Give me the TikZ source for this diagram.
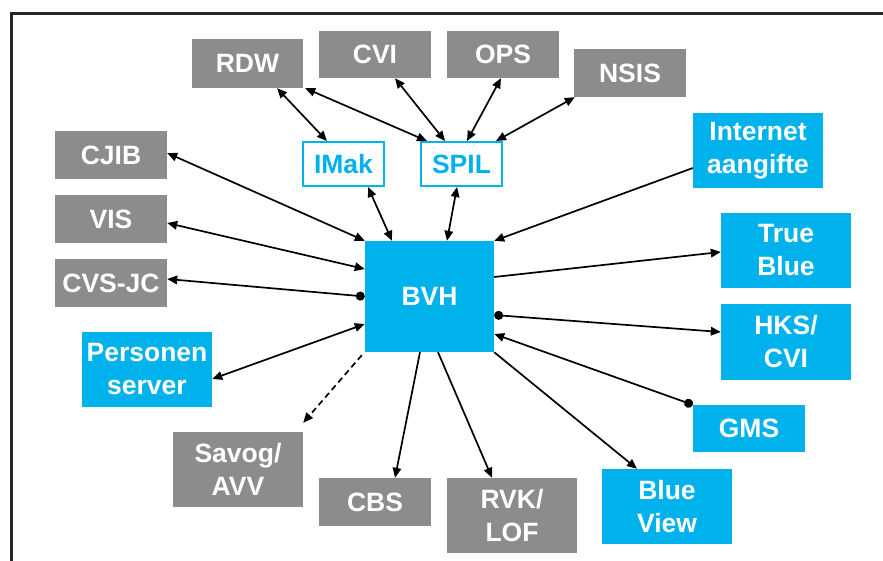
\documentclass[tikz,border=0pt]{standalone}
\usepackage{fontspec}
\setmainfont{Liberation Sans}
\usetikzlibrary{arrows.meta}
\definecolor{boxgray}{RGB}{140,140,140}
\definecolor{boxblue}{RGB}{0,178,235}
\tikzset{
  x=1pt, y=-1pt,
  base/.style={inner sep=0pt, align=center, font=\fontsize{26.5}{33}\selectfont\bfseries},
  gbox/.style={base, fill=boxgray, text=white},
  bbox/.style={base, fill=boxblue, text=white},
  obox/.style={base, draw=boxblue, line width=2pt, fill=white, text=boxblue},
  box/.style 2 args={minimum width=#1pt, minimum height=#2pt},
  tip/.tip={Triangle[length=10pt,width=8.5pt]},
  link/.style={line width=1.7pt, tip-tip},
  tolink/.style={line width=1.7pt, -tip},
  dotlink/.style={line width=1.7pt, {Circle[length=9pt]}-tip},
}
\begin{document}
\begin{tikzpicture}
\useasboundingbox (0,0) rectangle (883,560);
\clip (0,0) rectangle (883,560);
\draw[line width=2.2pt, draw=black!85] (11.5,570) -- (11.5,13.5) -- (890,13.5);

\node[gbox, box={111}{49}] (rdw) at (247.5,63.5) {RDW};
\node[gbox, box={112}{47}] (cvi) at (375,54.5) {CVI};
\node[gbox, box={112}{47}] (ops) at (503,54.5) {OPS};
\node[gbox, box={112}{48}] (nsis) at (630,73) {NSIS};
\node[gbox, box={112}{48}] (cjib) at (111,155) {CJIB};
\node[gbox, box={112}{48}] (vis) at (111,219) {VIS};
\node[gbox, box={112}{48}] (cvsjc) at (111,283) {CVS-JC};
\node[obox, box={81}{44}] (imak) at (343.5,164) {IMak};
\node[obox, box={81}{44}] (spil) at (461.5,164) {SPIL};
\node[bbox, box={130}{75}] (inet) at (758,150.5) {Internet\\aangifte};
\node[bbox, box={129}{111}] (bvh) at (429.5,296.5) {BVH};
\node[bbox, box={130}{75}] (tb) at (786,250.5) {True\\Blue};
\node[bbox, box={130}{76}] (hks) at (786,342) {HKS/\\CVI};
\node[bbox, box={112}{47}] (gms) at (749,428.5) {GMS};
\node[bbox, box={130}{75}] (bv) at (667,506.5) {Blue\\View};
\node[gbox, box={130}{75}] (rvk) at (512,515.5) {RVK/\\LOF};
\node[gbox, box={112}{48}] (cbs) at (375,502) {CBS};
\node[bbox, box={130}{75}] (pers) at (147,369.5) {Personen\\server};
\node[gbox, box={130}{75}] (savog) at (238,469.5) {Savog/\\AVV};

% top cluster
\draw[link] ([xshift=29.5pt]rdw.south) -- ([xshift=-16.5pt]imak.north);
\draw[link] ([xshift=2pt]rdw.south east) -- ([xshift=-34.5pt]spil.north);
\draw[link] ([xshift=20pt]cvi.south) -- ([xshift=-16.5pt]spil.north);
\draw[link] ([xshift=-2pt]ops.south) -- ([xshift=5.5pt]spil.north);
\draw[link] ([xshift=1pt]nsis.south west) -- ([xshift=-7pt]spil.north east);
\draw[link] ([xshift=24.5pt]imak.south) -- ([xshift=-37.5pt]bvh.north);
\draw[link] ([xshift=-4.5pt]spil.south) -- ([xshift=17.5pt]bvh.north);
\draw[tolink] ([yshift=-17.5pt]inet.west) -- (bvh.north east);

% left
\draw[link] ([yshift=2pt]cjib.east) -- (bvh.north west);
\draw[link] ([yshift=-4pt]vis.east) -- ([yshift=27.5pt]bvh.west);
\draw[dotlink] (bvh.west) -- ([yshift=4pt]cvsjc.east);
\draw[link] ([yshift=-9.5pt]pers.east) -- ([yshift=-27.5pt]bvh.west);
\draw[tolink, dash pattern=on 6pt off 4pt] ([shift={(-3pt,-3pt)}]bvh.south west) -- ([yshift=9pt]savog.north east);

% bottom
\draw[tolink] ([xshift=-9.5pt]bvh.south) -- ([xshift=20pt]cbs.north);
\draw[tolink] ([xshift=8.5pt]bvh.south) -- ([xshift=-20pt]rvk.north);
\draw[tolink] (bvh.south east) -- ([xshift=-30pt]bv.north);

% right
\draw[tolink] ([yshift=19.5pt]bvh.east) -- ([yshift=-1.5pt]tb.west);
\draw[dotlink] ([yshift=-18.5pt]bvh.east) -- ([yshift=10pt]hks.west);
\draw[dotlink] (gms.north west) -- ([yshift=-37.5pt]bvh.east);
\end{tikzpicture}
\end{document}
